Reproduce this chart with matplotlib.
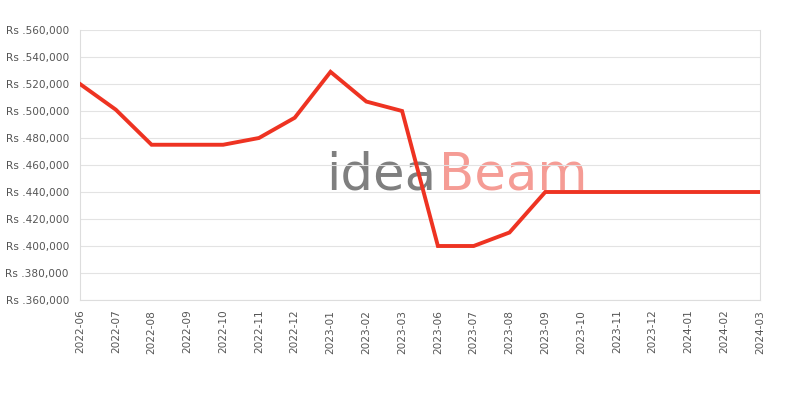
import matplotlib
matplotlib.use("Agg")
import matplotlib.pyplot as plt
from matplotlib.ticker import FuncFormatter

months = ["2022-06", "2022-07", "2022-08", "2022-09", "2022-10", "2022-11", "2022-12",
          "2023-01", "2023-02", "2023-03", "2023-06", "2023-07", "2023-08", "2023-09",
          "2023-10", "2023-11", "2023-12", "2024-01", "2024-02", "2024-03"]
prices = [520000, 501000, 475000, 475000, 475000, 480000, 495000,
          529000, 507000, 500000, 400000, 400000, 410000, 440000,
          440000, 440000, 440000, 440000, 440000, 440000]
y_ticks = [360000, 380000, 400000, 420000, 440000, 460000, 480000, 500000,
           520000, 540000, 560000]

fig = plt.figure(figsize=(8, 4), dpi=100)
ax = fig.add_axes([0.1, 0.25, 0.85, 0.675])

x = list(range(len(months)))
ax.plot(x, prices, color="#ee3322", linewidth=2.8, solid_joinstyle="miter", zorder=3)

ax.set_xlim(0, len(months) - 1)
ax.set_ylim(y_ticks[0], y_ticks[-1])
ax.set_yticks(y_ticks)
ax.yaxis.set_major_formatter(FuncFormatter(lambda v, p: "Rs ." + format(int(v), ",")))
ax.set_xticks(x)
ax.set_xticklabels(months, rotation=90)
ax.tick_params(axis="both", length=0, labelsize=7.6, labelcolor="#555555")
ax.tick_params(axis="y", pad=8)
ax.tick_params(axis="x", pad=7)
ax.grid(axis="y", color="#e3e3e3", linewidth=0.8, zorder=0)
for s in ax.spines.values():
    s.set_color("#dddddd")
    s.set_linewidth(0.8)
ax.spines["top"].set_visible(False)

# watermark
fig.text(0.545, 0.525, "idea", fontsize=37, color="#7f7f7f", ha="right", va="baseline",
         family="DejaVu Sans", zorder=1)
fig.text(0.549, 0.525, "Beam", fontsize=37, color="#f59c95", ha="left", va="baseline",
         family="DejaVu Sans", zorder=1)
ax.set_zorder(2)
ax.patch.set_alpha(0)

fig.savefig("out.png", dpi=100)
